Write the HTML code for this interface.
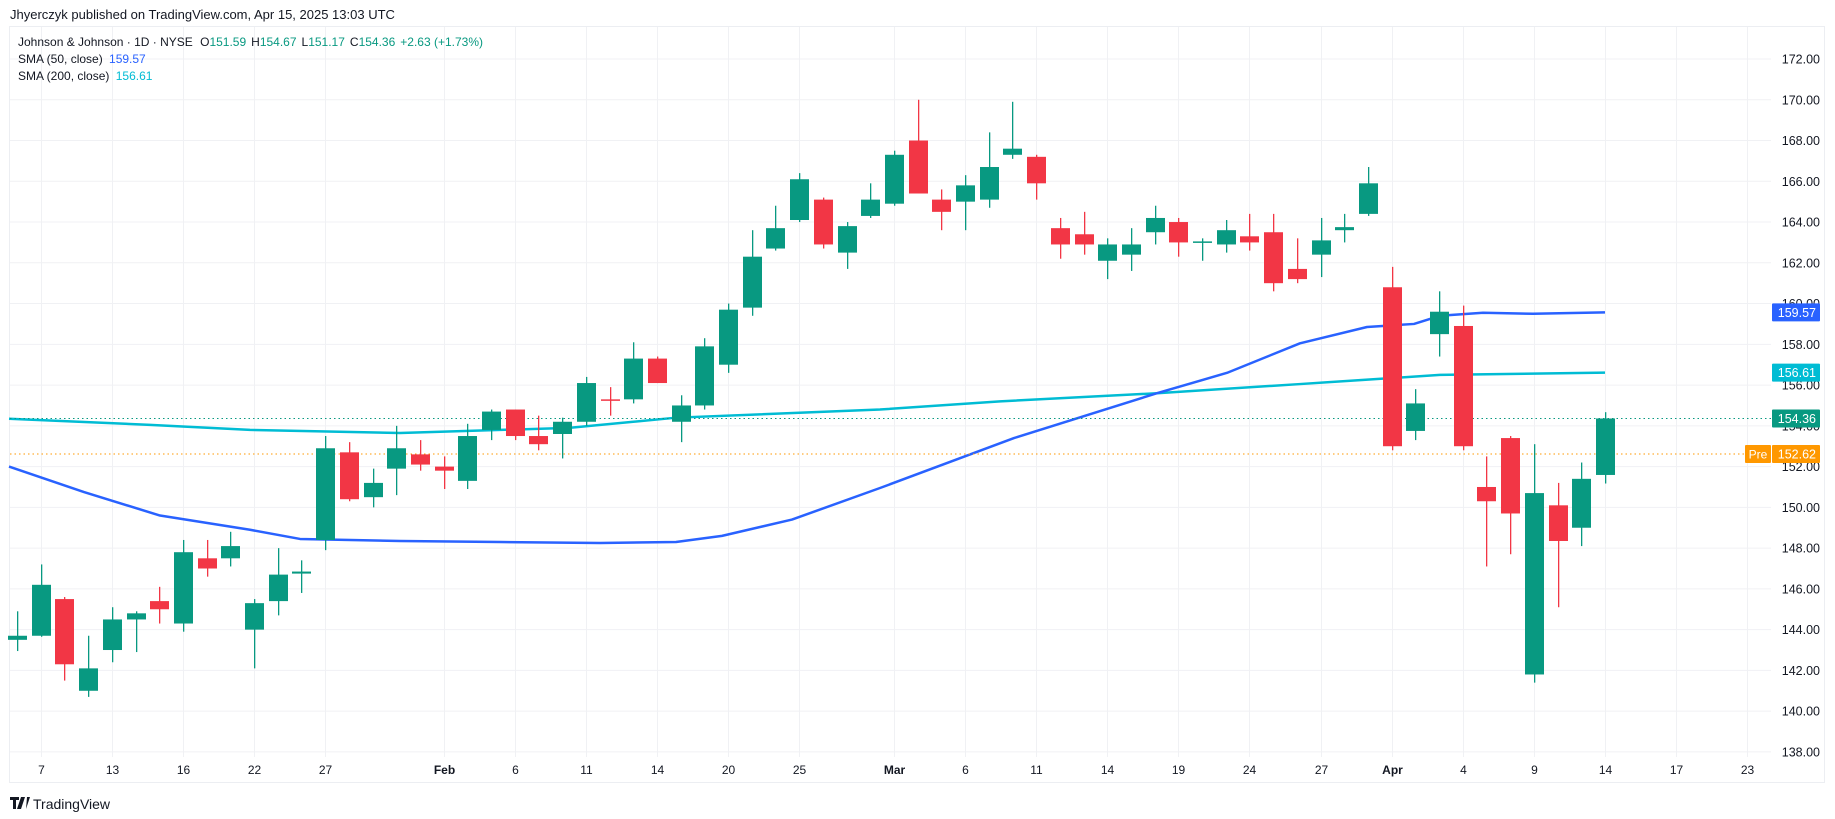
<!DOCTYPE html>
<html><head><meta charset="utf-8">
<style>
html,body{margin:0;padding:0;background:#fff;}
body{width:1835px;height:819px;overflow:hidden;position:relative;font-family:"Liberation Sans",sans-serif;color:#131722;}
svg{position:absolute;left:0;top:0;}
</style></head><body>
<svg id="s" width="1835" height="819" xmlns="http://www.w3.org/2000/svg" font-family="Liberation Sans, sans-serif"></svg>
<script>
const S=document.getElementById('s');
const NS='http://www.w3.org/2000/svg';
function el(t,a,txt){const e=document.createElementNS(NS,t);for(const k in a)e.setAttribute(k,a[k]);if(txt!==undefined)e.textContent=txt;S.appendChild(e);return e;}
const Y=p=>59+(172-p)*20.38;
const X=i=>17+i*23.7;
const G='#089981',R='#f23645';
// frame
el('rect',{x:9.5,y:26.5,width:1815,height:756,fill:'#fff',stroke:'#eceef2','stroke-width':1});
// horizontal grid
for(let p=138;p<=172;p+=2){el('line',{x1:10,x2:1771,y1:Y(p),y2:Y(p),stroke:'#f0f1f4','stroke-width':1});}
// vertical grid & date labels
const dl=[[1,'7'],[4,'13'],[7,'16'],[10,'22'],[13,'27'],[18,'Feb'],[21,'6'],[24,'11'],[27,'14'],[30,'20'],[33,'25'],[37,'Mar'],[40,'6'],[43,'11'],[46,'14'],[49,'19'],[52,'24'],[55,'27'],[58,'Apr'],[61,'4'],[64,'9'],[67,'14'],[70,'17'],[73,'23']];
dl.forEach(([i,t])=>{const x=Math.round(X(i))+0.5;el('line',{x1:x,x2:x,y1:27,y2:757,stroke:'#f0f1f4','stroke-width':1});
el('text',{x:x,y:774,'font-size':12,'text-anchor':'middle',fill:'#131722','font-weight':(isNaN(+t)?'bold':'normal')},t);});
// price labels
for(let p=138;p<=172;p+=2){el('text',{x:1820,y:Y(p)+4.5,'font-size':12.5,'text-anchor':'end',fill:'#131722'},p.toFixed(2));}
// SMA200
const teal=[[9,154.35],[150,154.05],[250,153.8],[400,153.65],[569,153.9],[676,154.4],[880,154.8],[1000,155.2],[1157,155.6],[1300,156.05],[1440,156.5],[1605,156.61]];
el('polyline',{points:teal.map(a=>a[0]+','+Y(a[1])).join(' '),fill:'none',stroke:'#00bcd4','stroke-width':2.5,'stroke-linejoin':'round'});
const blue=[[9,152.0],[84,150.75],[160,149.6],[250,148.9],[300,148.45],[400,148.35],[500,148.3],[600,148.25],[676,148.3],[722,148.6],[792,149.4],[880,150.95],[1014,153.4],[1157,155.6],[1227,156.6],[1300,158.05],[1367,158.85],[1414,159.0],[1440,159.4],[1483,159.55],[1533,159.5],[1605,159.57]];
el('polyline',{points:blue.map(a=>a[0]+','+Y(a[1])).join(' '),fill:'none',stroke:'#2962ff','stroke-width':2.5,'stroke-linejoin':'round'});
// dotted lines
el('line',{x1:10,x2:1771,y1:Y(154.36),y2:Y(154.36),stroke:G,'stroke-width':1,'stroke-dasharray':'1.5 3'});
el('line',{x1:10,x2:1745,y1:Y(152.62),y2:Y(152.62),stroke:'#ff9800','stroke-width':1,'stroke-dasharray':'1.5 3'});
// candles [O,H,L,C]
const C=[
[143.5,144.9,142.95,143.7],[143.7,147.2,143.65,146.2],[145.5,145.6,141.5,142.3],[141.0,143.7,140.7,142.1],
[143.0,145.1,142.4,144.5],[144.5,144.9,142.9,144.8],[145.4,146.1,144.3,145.0],[144.3,148.4,143.9,147.8],
[147.5,148.4,146.6,147.0],[147.5,148.8,147.1,148.1],[144.0,145.5,142.1,145.3],[145.4,148.0,144.7,146.7],
[146.75,147.4,145.8,146.85],[148.4,153.5,147.9,152.9],[152.7,153.2,150.3,150.4],[150.5,151.9,150.0,151.2],
[151.9,154.0,150.6,152.9],[152.6,153.3,151.8,152.1],[152.0,152.5,150.9,151.8],[151.3,154.1,150.9,153.5],
[153.8,154.8,153.3,154.7],[154.8,154.8,153.3,153.5],[153.5,154.5,152.8,153.1],[153.6,154.4,152.4,154.2],
[154.2,156.4,154.0,156.1],[155.3,155.9,154.5,155.25],[155.3,158.1,155.1,157.3],[157.3,157.4,156.1,156.1],
[154.2,155.5,153.2,155.0],[155.0,158.3,154.8,157.9],[157.0,160.0,156.6,159.7],[159.8,163.6,159.4,162.3],
[162.7,164.8,162.6,163.7],[164.1,166.4,164.0,166.1],[165.1,165.2,162.7,162.9],[162.5,164.0,161.7,163.8],
[164.3,165.9,164.2,165.1],[164.9,167.5,164.8,167.3],[168.0,170.0,165.4,165.4],[165.1,165.6,163.6,164.5],
[165.0,166.3,163.6,165.8],[165.1,168.4,164.7,166.7],[167.3,169.9,167.1,167.6],[167.2,167.3,165.1,165.9],
[163.7,164.2,162.2,162.9],[163.4,164.5,162.4,162.9],[162.1,163.2,161.2,162.9],[162.4,163.7,161.6,162.9],
[163.5,164.8,162.9,164.2],[164.0,164.2,162.3,163.0],[163.0,163.2,162.1,163.05],[162.9,164.1,162.5,163.6],
[163.3,164.4,162.6,163.0],[163.5,164.4,160.6,161.0],[161.7,163.2,161.0,161.2],[162.4,164.2,161.3,163.1],
[163.6,164.4,163.0,163.75],[164.4,166.7,164.3,165.9],[160.8,161.8,152.8,153.0],[153.75,155.8,153.3,155.1],
[158.5,160.6,157.4,159.6],[158.9,159.9,152.8,153.0],[151.0,152.5,147.1,150.3],[153.4,153.5,147.7,149.7],
[141.8,153.1,141.4,150.7],[150.1,151.2,145.1,148.35],[149.0,152.2,148.1,151.4],[151.59,154.67,151.17,154.36]];
C.forEach((c,i)=>{const [o,h,l,cl]=c;const col=cl>=o?G:R;const x=Math.round(X(i));
el('rect',{x:x,y:Y(h),width:1.3,height:Math.max(1,Y(l)-Y(h)),fill:col});
const t=Y(Math.max(o,cl)),b=Y(Math.min(o,cl));
el('rect',{x:x-9,y:t,width:19,height:Math.max(1.5,b-t),fill:col});});
// price tags
function tag(p,bg,txt){const y=Y(p);el('rect',{x:1772,y:y-9,width:48,height:18,fill:bg,rx:1});el('text',{x:1816,y:y+4.5,'font-size':12.5,'text-anchor':'end',fill:'#fff'},txt);}
tag(159.57,'#2962ff','159.57');tag(156.61,'#00bcd4','156.61');tag(154.36,G,'154.36');tag(152.62,'#ff9800','152.62');
el('rect',{x:1745,y:Y(152.62)-9,width:26,height:18,fill:'#ff9800',rx:1});
el('text',{x:1758,y:Y(152.62)+4.5,'font-size':12,'text-anchor':'middle',fill:'#fff'},'Pre');
// header
el('text',{x:10,y:19,'font-size':13,fill:'#131722'},'Jhyerczyk published on TradingView.com, Apr 15, 2025 13:03 UTC');
const t1=el('text',{x:18,y:46,'font-size':12,fill:'#131722'});
t1.innerHTML='Johnson &amp; Johnson · 1D · NYSE  <tspan dx="4">O</tspan><tspan fill="#089981">151.59</tspan><tspan dx="5">H</tspan><tspan fill="#089981">154.67</tspan><tspan dx="5">L</tspan><tspan fill="#089981">151.17</tspan><tspan dx="5">C</tspan><tspan fill="#089981">154.36</tspan><tspan dx="5" fill="#089981">+2.63 (+1.73%)</tspan>';
const t2=el('text',{x:18,y:63,'font-size':12,fill:'#131722'});t2.innerHTML='SMA (50, close) <tspan dx="3" fill="#2962ff">159.57</tspan>';
const t3=el('text',{x:18,y:80,'font-size':12,fill:'#131722'});t3.innerHTML='SMA (200, close) <tspan dx="3" fill="#00bcd4">156.61</tspan>';
// logo
el('path',{d:'M10 797h9v3h-3v9h-3v-9h-3z M21 797h4l-4 12h-4z M27 797h3l-4 12',fill:'#131722'});
el('text',{x:33,y:809,'font-size':14,fill:'#131722'},'TradingView');
</script>
</body></html>
